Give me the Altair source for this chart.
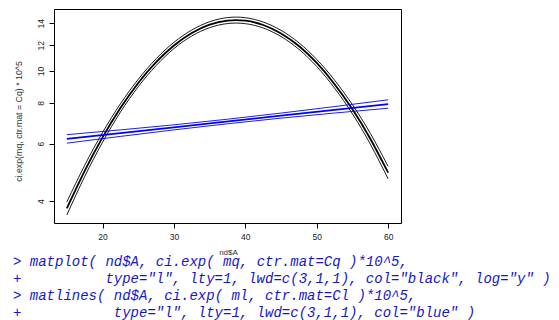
import altair as alt
import pandas as pd

# ---- data ----
ages = [15, 17.5, 20, 22.5, 25, 27.5, 30, 32.5, 35, 37.5, 40,
        42.5, 45, 47.5, 50, 52.5, 55, 57.5, 60]
mq_est = [3.80, 4.95, 6.27, 7.71, 9.20, 10.65, 11.98, 13.08, 13.87, 14.28, 14.27,
          13.84, 13.04, 11.93, 10.59, 9.12, 7.64, 6.21, 4.89]
mq_lo = [3.63, 4.76, 6.06, 7.49, 8.96, 10.40, 11.72, 12.81, 13.58, 13.98, 13.97,
         13.55, 12.76, 11.66, 10.33, 8.87, 7.40, 5.98, 4.68]
mq_hi = [3.98, 5.15, 6.49, 7.94, 9.44, 10.91, 12.25, 13.36, 14.16, 14.58, 14.57,
         14.13, 13.33, 12.21, 10.86, 9.38, 7.89, 6.45, 5.11]

ages_l = [15, 30, 45, 60]
ml_est = [6.20, 6.73, 7.31, 7.93]
ml_lo = [6.02, 6.61, 7.18, 7.70]
ml_hi = [6.39, 6.85, 7.44, 8.17]

x_ticks = [20, 30, 40, 50, 60]
y_ticks = [4, 6, 8, 10, 12, 14]

code_prompts = [">", "+", ">", "+"]
code_texts = [
    "matplot( nd$A, ci.exp( mq, ctr.mat=Cq )*10^5,",
    'type="l", lty=1, lwd=c(3,1,1), col="black", log="y" )',
    "matlines( nd$A, ci.exp( ml, ctr.mat=Cl )*10^5,",
    'type="l", lty=1, lwd=c(3,1,1), col="blue" )',
]
code_indent_chars = [2, 11, 2, 12]

# ---- build long table ----
rows = []
for name, kind, vals in [("mq_est", "est", mq_est), ("mq_lo", "ci", mq_lo), ("mq_hi", "ci", mq_hi)]:
    for a, v in zip(ages, vals):
        rows.append({"A": a, "val": v, "series": name, "model": "mq", "kind": kind})
for name, kind, vals in [("ml_est", "est", ml_est), ("ml_lo", "ci", ml_lo), ("ml_hi", "ci", ml_hi)]:
    for a, v in zip(ages_l, vals):
        rows.append({"A": a, "val": v, "series": name, "model": "ml", "kind": kind})
df = pd.DataFrame(rows)

W, H = 347, 214
LEFT, TOP = 54, 9

lines = alt.Chart(df).mark_line(interpolate="natural").encode(
    x=alt.X("A:Q", scale=alt.Scale(domain=[13.2, 61.8], nice=False, zero=False),
            axis=alt.Axis(values=x_ticks, title="nd$A", domain=False, grid=False,
                          tickColor="black", tickSize=5, labelPadding=4,
                          labelFont="Liberation Sans", labelFontSize=8.5, labelColor="#222",
                          titleFont="Liberation Sans", titleFontSize=8, titleFontWeight="normal",
                          titleColor="#333", titleX=174, titleY=29, titleBaseline="middle",
                          titleAlign="center", titleAnchor="start")),
    y=alt.Y("val:Q", scale=alt.Scale(type="log", domain=[3.43, 15.49], nice=False, zero=False),
            axis=alt.Axis(values=y_ticks, title="ci.exp(mq, ctr.mat = Cq) * 10^5",
                          domain=False, grid=False, tickColor="black", tickSize=5,
                          labelAngle=-90, labelAlign="center", labelBaseline="bottom",
                          labelPadding=4, labelFont="Liberation Sans", labelFontSize=8.5,
                          labelColor="#222", titleFont="Liberation Sans", titleFontSize=8.8,
                          titleFontWeight="normal", titleColor="#333", titleAngle=-90,
                          titleX=-36, titleY=112, titleAlign="center", titleBaseline="middle",
                          titleAnchor="start")),
    detail="series:N",
    color=alt.Color("model:N", scale=alt.Scale(domain=["mq", "ml"], range=["black", "#0000ff"]),
                    legend=None),
    strokeWidth=alt.StrokeWidth("kind:N", scale=alt.Scale(domain=["est", "ci"], range=[1.8, 0.9]),
                                legend=None),
)

layers = [lines]
char_w = 8.4
line_y = [262, 279, 296, 313]
for p, t, ind, yy in zip(code_prompts, code_texts, code_indent_chars, line_y):
    layers.append(
        alt.Chart(pd.DataFrame({"t": [p]})).mark_text(
            align="left", baseline="middle", font="Liberation Mono", fontStyle="italic",
            fontSize=14, color="#1515cc"
        ).encode(text="t:N", x=alt.value(13 - LEFT), y=alt.value(yy - TOP))
    )
    layers.append(
        alt.Chart(pd.DataFrame({"t": [t]})).mark_text(
            align="left", baseline="middle", font="Liberation Mono", fontStyle="italic",
            fontSize=14, color="#1515cc"
        ).encode(text="t:N", x=alt.value(13 + ind * char_w - LEFT), y=alt.value(yy - TOP))
    )

chart = alt.layer(*layers).properties(
    width=W, height=H,
    background="white",
    autosize=alt.AutoSizeParams(type="none"),
    padding={"left": LEFT, "top": TOP, "right": 559 - LEFT - W, "bottom": 320 - TOP - H},
).configure_view(stroke="black", strokeWidth=1)

chart.save("out.html", embed_options={"renderer": "svg", "actions": False})
